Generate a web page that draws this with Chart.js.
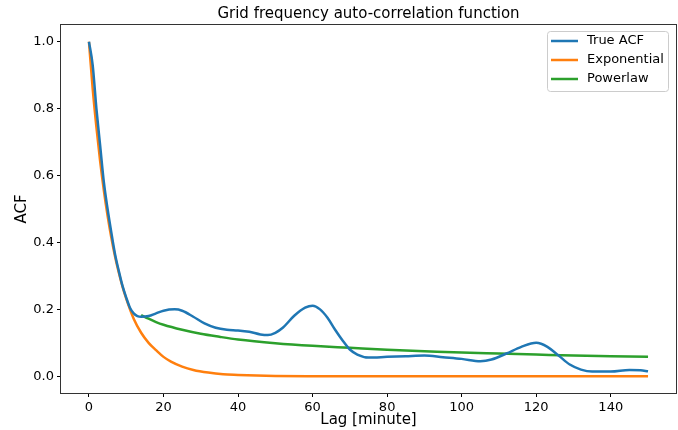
<!DOCTYPE html>
<html lang="en">
<head>
    <meta charset="UTF-8">
    <title>Grid frequency auto-correlation function</title>
    <script src="https://cdn.jsdelivr.net/npm/chart.js"></script>
    <style>
        html, body {
            margin: 0;
            padding: 0;
            background-color: white;
        }
        .chart-container {
            position: relative;
            width: 678px;
            height: 430px;
        }
    </style>
</head>
<body>
    <div class="chart-container">
        <canvas id="acfChart" width="678" height="430"></canvas>
    </div>

    <script>
        // values
        const trueLag = [0, 1, 2, 3, 4, 5, 6, 7, 8, 9, 10, 11, 12, 13, 14, 16, 18, 20, 23, 25, 28, 31, 34, 37, 40, 43, 46, 48, 50, 52, 55, 58, 60, 62, 64, 66, 68, 70, 72, 75, 80, 85, 90, 95, 100, 105, 108, 112, 116, 120, 123, 126, 129, 132, 135, 140, 145, 148, 150];
        const trueAcf = [1.0, 0.93, 0.8, 0.69, 0.58, 0.5, 0.43, 0.365, 0.315, 0.27, 0.235, 0.205, 0.188, 0.18, 0.178, 0.18, 0.188, 0.196, 0.2, 0.196, 0.178, 0.158, 0.145, 0.139, 0.137, 0.133, 0.125, 0.123, 0.13, 0.145, 0.18, 0.205, 0.211, 0.2, 0.175, 0.14, 0.108, 0.08, 0.065, 0.056, 0.058, 0.06, 0.062, 0.057, 0.052, 0.045, 0.05, 0.068, 0.088, 0.1, 0.088, 0.062, 0.035, 0.02, 0.014, 0.014, 0.019, 0.018, 0.015];

        const expLag = [0, 1, 2, 3, 4, 5, 6, 7, 8, 9, 10, 12, 14, 16, 18, 20, 22, 25, 28, 32, 36, 40, 45, 50, 60, 80, 100, 150];
        const expAcf = [1.0, 0.86, 0.745, 0.643, 0.555, 0.48, 0.415, 0.358, 0.31, 0.268, 0.232, 0.172, 0.13, 0.1, 0.078, 0.058, 0.044, 0.029, 0.019, 0.011, 0.006, 0.004, 0.002, 0.001, 0.0003, 0, 0, 0];

        const powLag = [14, 16, 18, 20, 25, 30, 35, 40, 50, 60, 70, 80, 90, 100, 110, 120, 130, 140, 150];
        const powAcf = [0.183, 0.172, 0.162, 0.154, 0.139, 0.127, 0.118, 0.11, 0.099, 0.091, 0.085, 0.079, 0.075, 0.071, 0.068, 0.065, 0.062, 0.06, 0.058];

        const xTicks = [0, 20, 40, 60, 80, 100, 120, 140];
        const yTicks = [0.0, 0.2, 0.4, 0.6, 0.8, 1.0];

        const seriesNames = ['True ACF', 'Exponential', 'Powerlaw'];
        const seriesColors = ['#1f77b4', '#ff7f0e', '#2ca02c'];

        const FONT = "'DejaVu Sans', sans-serif";

        function toPoints(xs, ys) {
            return xs.map((x, i) => ({ x: x, y: ys[i] }));
        }

        // box round the axes, title and legend box drawn like matplotlib
        const framePlugin = {
            id: 'frame',
            afterDraw(chart) {
                const ctx = chart.ctx;
                const a = chart.chartArea;
                ctx.save();
                ctx.strokeStyle = '#333';
                ctx.lineWidth = 1;
                ctx.strokeRect(a.left - 0.5, a.top - 0.5, a.right - a.left + 1, a.bottom - a.top + 1);

                ctx.fillStyle = '#000';
                ctx.font = '15px ' + FONT;
                ctx.textAlign = 'center';
                ctx.textBaseline = 'middle';
                ctx.fillText('Grid frequency auto-correlation function', (a.left + a.right) / 2, 14);

                // legend
                const bx = 547, by = 31, bw = 121, bh = 60;
                ctx.fillStyle = 'rgba(255,255,255,0.8)';
                ctx.strokeStyle = '#cccccc';
                ctx.beginPath();
                ctx.roundRect(bx + 0.5, by + 0.5, bw, bh, 3);
                ctx.fill();
                ctx.stroke();
                ctx.font = '13px ' + FONT;
                ctx.textAlign = 'left';
                chart.data.datasets.forEach((ds, i) => {
                    const y = by + 10 + i * 19;
                    ctx.strokeStyle = ds.borderColor;
                    ctx.lineWidth = 2.5;
                    ctx.beginPath();
                    ctx.moveTo(bx + 4, y);
                    ctx.lineTo(bx + 31, y);
                    ctx.stroke();
                    ctx.fillStyle = '#000';
                    ctx.fillText(ds.label, bx + 40, y);
                });
                ctx.restore();
            }
        };

        const ctx = document.getElementById('acfChart').getContext('2d');
        const chart = new Chart(ctx, {
            type: 'line',
            data: {
                datasets: [
                    { label: seriesNames[0], data: toPoints(trueLag, trueAcf) },
                    { label: seriesNames[1], data: toPoints(expLag, expAcf) },
                    { label: seriesNames[2], data: toPoints(powLag, powAcf) }
                ].map((ds, i) => Object.assign(ds, {
                    borderColor: seriesColors[i],
                    backgroundColor: seriesColors[i],
                    borderWidth: 2.5,
                    pointRadius: 0,
                    fill: false,
                    cubicInterpolationMode: 'monotone'
                }))
            },
            options: {
                responsive: false,
                animation: false,
                devicePixelRatio: 1,
                layout: { padding: { left: 0, right: 2, top: 25, bottom: 0 } },
                plugins: {
                    legend: { display: false },
                    title: { display: false },
                    tooltip: { enabled: false }
                },
                scales: {
                    x: {
                        type: 'linear',
                        min: -7.5,
                        max: 157.5,
                        afterBuildTicks: (scale) => { scale.ticks = xTicks.map(v => ({ value: v })); },
                        afterFit: (scale) => { scale.height = 37; },
                        grid: { drawOnChartArea: false, drawTicks: true, tickLength: 4, color: '#000' },
                        border: { display: false },
                        ticks: {
                            color: '#000',
                            padding: 3,
                            maxRotation: 0,
                            autoSkip: false,
                            font: { family: FONT, size: 13 },
                            callback: (v) => v
                        },
                        title: {
                            display: true,
                            text: 'Lag [minute]',
                            color: '#000',
                            padding: { top: 0, bottom: 1 },
                            font: { family: FONT, size: 15 }
                        }
                    },
                    y: {
                        type: 'linear',
                        min: -0.05,
                        max: 1.05,
                        afterBuildTicks: (scale) => { scale.ticks = yTicks.map(v => ({ value: v })); },
                        afterFit: (scale) => { scale.width = 61; },
                        grid: { drawOnChartArea: false, drawTicks: true, tickLength: 4, color: '#000' },
                        border: { display: false },
                        ticks: {
                            color: '#000',
                            padding: 3,
                            autoSkip: false,
                            font: { family: FONT, size: 13 },
                            callback: (v) => v.toFixed(1)
                        },
                        title: {
                            display: true,
                            text: 'ACF',
                            color: '#000',
                            padding: { top: 13, bottom: 0 },
                            font: { family: FONT, size: 15 }
                        }
                    }
                }
            },
            plugins: [framePlugin]
        });
    </script>
</body>
</html>
